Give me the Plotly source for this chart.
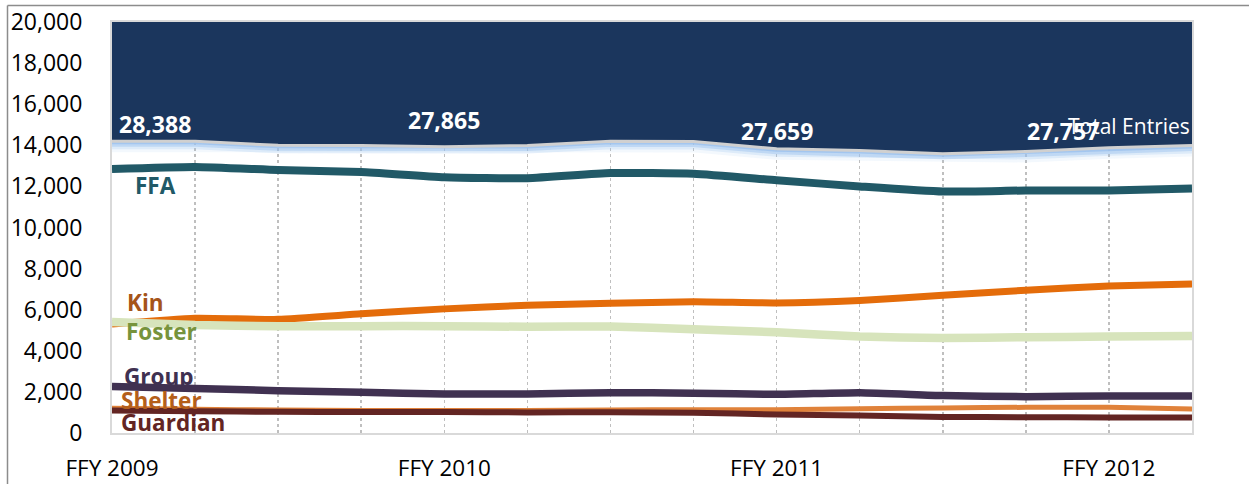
import plotly.graph_objects as go

# ---------------- data ----------------
QUARTERS = list(range(14))
TICK_LABELS = ["FFY 2009", "", "", "", "FFY 2010", "", "", "", "FFY 2011", "", "", "", "FFY 2012", ""]

TOTAL = [28388, 28390, 28000, 27990, 27865, 27990, 28390, 28380, 27659, 27500, 27180, 27400, 27757, 27980]
FFA = [12850, 12950, 12800, 12700, 12450, 12400, 12650, 12620, 12300, 12000, 11750, 11800, 11800, 11900]
KIN = [5300, 5580, 5530, 5800, 6040, 6220, 6310, 6390, 6330, 6450, 6700, 6950, 7150, 7250]
FOSTER = [5400, 5250, 5200, 5200, 5200, 5170, 5180, 5050, 4900, 4700, 4620, 4660, 4690, 4720]
GROUP = [2260, 2170, 2060, 1980, 1900, 1900, 1960, 1940, 1880, 1960, 1820, 1770, 1800, 1800]
SHELTER = [1200, 1150, 1120, 1100, 1100, 1100, 1120, 1130, 1130, 1180, 1220, 1250, 1250, 1170]
GUARDIAN = [1090, 1060, 1030, 1020, 1020, 1000, 1010, 990, 900, 850, 780, 770, 760, 750]

Y_MAX = 20000
Y2_MAX = 40000  # hidden secondary axis for Total Entries

NAVY = "#1b365d"
FONT = "Open Sans"

fig = go.Figure()

# ---- series lines (primary axis) ----
series = [
    ("Kin", KIN, "#e46c0a", 7),
    ("Foster", FOSTER, "#d7e4bc", 8.5),
    ("FFA", FFA, "#215967", 8),
    ("Group", GROUP, "#403151", 7.5),
    ("Shelter", SHELTER, "#e0823a", 5),
    ("Guardian", GUARDIAN, "#632523", 6),
]
for name, vals, col, w in series:
    fig.add_trace(go.Scatter(x=QUARTERS, y=vals, mode="lines", name=name,
                             line=dict(color=col, width=w, shape="spline", smoothing=0.5),
                             hoverinfo="skip"))

# ---- total entries: glow, navy area above, boundary line (secondary axis) ----
for w, op in [(22, 0.12), (16, 0.25), (11, 0.45), (6, 0.8)]:
    fig.add_trace(go.Scatter(x=QUARTERS, y=TOTAL, yaxis="y2", mode="lines",
                             line=dict(color="#9cc2ee", width=w), opacity=op,
                             hoverinfo="skip"))
fig.add_trace(go.Scatter(x=QUARTERS, y=[Y2_MAX] * len(QUARTERS), yaxis="y2", mode="lines",
                         line=dict(width=0, color=NAVY), hoverinfo="skip"))
fig.add_trace(go.Scatter(x=QUARTERS, y=TOTAL, yaxis="y2", mode="lines", name="Total Entries",
                         fill="tonexty", fillcolor=NAVY,
                         line=dict(color="#d0d0d0", width=3), hoverinfo="skip"))

# ---- annotations ----
ann = []
label_cfg = [
    ("FFA", 0.25, 12030, "#215967"),
    ("Kin", 0.16, 6330, "#a5541a"),
    ("Foster", 0.14, 4920, "#77933c"),
    ("Group", 0.12, 2730, "#403151"),
    ("Shelter", 0.08, 1560, "#b45f1a"),
    ("Guardian", 0.08, 490, "#632523"),
]
for txt, xx, yy, col in label_cfg:
    ann.append(dict(x=xx, y=yy, xref="x", yref="y", text=txt, showarrow=False,
                    xanchor="left", yanchor="middle",
                    font=dict(family=FONT, size=22.5, color=col, weight="bold")))

# total value labels
tot_lbl = [(0, 0.06, "left", 15050), (4, 4.0, "center", 15250),
           (8, 8.0, "center", 14710), (12, 11.45, "center", 14710)]
for idx, xx, anc, yy in tot_lbl:
    ann.append(dict(x=xx, y=yy, xref="x", yref="y", text=f"{TOTAL[idx]:,}", showarrow=False,
                    xanchor=anc, yanchor="middle",
                    font=dict(family=FONT, size=23, color="white", weight="bold")))
ann.append(dict(x=13, y=14950, xref="x", yref="y", text="Total Entries", showarrow=False,
                xanchor="right", yanchor="middle",
                font=dict(family=FONT, size=21, color="white")))

# ---- layout ----
W, H = 1249, 484
ML, MR, MT, MB = 112, 57, 22, 51
pw, ph = W - ML - MR, H - MT - MB


def px_x(p):
    return (p - ML) / pw


def px_y(p):
    return (H - MB - p) / ph


shapes = [
    dict(type="line", xref="paper", yref="paper", x0=px_x(7.5), x1=px_x(W + 5),
         y0=px_y(5.5), y1=px_y(5.5), line=dict(color="#8c8c8c", width=1.5)),
    dict(type="line", xref="paper", yref="paper", x0=px_x(7.5), x1=px_x(7.5),
         y0=px_y(5.5), y1=px_y(H + 5), line=dict(color="#8c8c8c", width=1.5)),
]

fig.update_layout(
    width=W, height=H,
    margin=dict(l=ML, r=MR, t=MT, b=MB, autoexpand=False),
    paper_bgcolor="white", plot_bgcolor="white",
    showlegend=False,
    font=dict(family=FONT, size=23, color="black"),
    annotations=ann,
    shapes=shapes,
    xaxis=dict(range=[0, 13], tickmode="array", tickvals=QUARTERS, ticktext=TICK_LABELS,
               showgrid=True, gridcolor="#bfbfbf", griddash="dot", gridwidth=1.5,
               showline=True, linecolor="#d9d9d9", linewidth=2, mirror=True,
               ticks="", ticklabelstandoff=14, zeroline=False, automargin=False,
               tickfont=dict(family=FONT, size=22.5, color="black")),
    yaxis=dict(range=[0, Y_MAX], tickmode="linear", tick0=0, dtick=2000,
               tickformat=",d", showgrid=False, zeroline=False, automargin=False,
               showline=True, linecolor="#d9d9d9", linewidth=2, mirror=True,
               ticks="", ticklabelstandoff=23,
               tickfont=dict(family=FONT, size=23, color="black")),
    yaxis2=dict(range=[0, Y2_MAX], overlaying="y", side="right", visible=False,
                showgrid=False, zeroline=False),
)

fig.write_html("out.html", config={"displayModeBar": False, "staticPlot": True},
               post_script="document.body.style.margin='0px';document.body.style.overflow='hidden';")
